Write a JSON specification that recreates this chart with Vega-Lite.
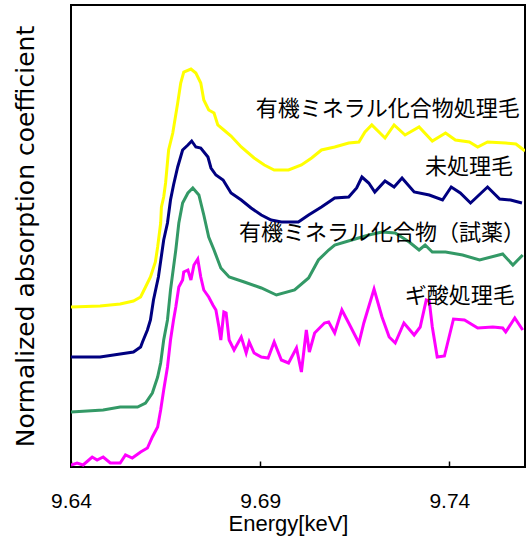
{
"$schema": "https://vega.github.io/schema/vega-lite/v6.json",
"autosize": "none",
"padding": {"left": 71, "top": 5, "right": 1, "bottom": 71},
"width": 454,
"height": 462,
"config": {"view": {"stroke": "black", "strokeWidth": 2}, "font": "Liberation Sans"},
"datasets": {
"curves": [
{"s":"Y","e":9.6400,"v":160},{"s":"Y","e":9.6477,"v":161},{"s":"Y","e":9.6530,"v":163},{"s":"Y","e":9.6565,"v":166},{"s":"Y","e":9.6584,"v":170},{"s":"Y","e":9.6597,"v":180},{"s":"Y","e":9.6610,"v":190},{"s":"Y","e":9.6623,"v":205},{"s":"Y","e":9.6629,"v":220},{"s":"Y","e":9.6637,"v":244},{"s":"Y","e":9.6639,"v":260},{"s":"Y","e":9.6645,"v":270},{"s":"Y","e":9.6650,"v":284},{"s":"Y","e":9.6658,"v":317},{"s":"Y","e":9.6669,"v":334},{"s":"Y","e":9.6682,"v":364},{"s":"Y","e":9.6690,"v":384},{"s":"Y","e":9.6698,"v":395},{"s":"Y","e":9.6717,"v":398},{"s":"Y","e":9.6730,"v":394},{"s":"Y","e":9.6743,"v":384},{"s":"Y","e":9.6751,"v":367},{"s":"Y","e":9.6764,"v":357},{"s":"Y","e":9.6778,"v":354},{"s":"Y","e":9.6788,"v":342},{"s":"Y","e":9.6804,"v":337},{"s":"Y","e":9.6823,"v":331},{"s":"Y","e":9.6850,"v":320},{"s":"Y","e":9.6884,"v":309},{"s":"Y","e":9.6911,"v":302},{"s":"Y","e":9.6937,"v":297},{"s":"Y","e":9.6975,"v":297},{"s":"Y","e":9.7009,"v":302},{"s":"Y","e":9.7036,"v":309},{"s":"Y","e":9.7062,"v":317},{"s":"Y","e":9.7097,"v":320},{"s":"Y","e":9.7134,"v":324},{"s":"Y","e":9.7161,"v":325},{"s":"Y","e":9.7177,"v":335},{"s":"Y","e":9.7195,"v":342},{"s":"Y","e":9.7230,"v":329},{"s":"Y","e":9.7254,"v":342},{"s":"Y","e":9.7283,"v":332},{"s":"Y","e":9.7320,"v":340},{"s":"Y","e":9.7355,"v":326},{"s":"Y","e":9.7390,"v":334},{"s":"Y","e":9.7416,"v":327},{"s":"Y","e":9.7453,"v":325},{"s":"Y","e":9.7475,"v":320},{"s":"Y","e":9.7501,"v":325},{"s":"Y","e":9.7549,"v":324},{"s":"Y","e":9.7576,"v":323},{"s":"Y","e":9.7600,"v":316},
{"s":"N","e":9.6400,"v":110},{"s":"N","e":9.6477,"v":110},{"s":"N","e":9.6530,"v":113},{"s":"N","e":9.6565,"v":115},{"s":"N","e":9.6584,"v":120},{"s":"N","e":9.6589,"v":125},{"s":"N","e":9.6602,"v":137},{"s":"N","e":9.6610,"v":147},{"s":"N","e":9.6618,"v":167},{"s":"N","e":9.6631,"v":190},{"s":"N","e":9.6645,"v":227},{"s":"N","e":9.6655,"v":244},{"s":"N","e":9.6663,"v":267},{"s":"N","e":9.6671,"v":282},{"s":"N","e":9.6682,"v":300},{"s":"N","e":9.6695,"v":317},{"s":"N","e":9.6709,"v":322},{"s":"N","e":9.6719,"v":326},{"s":"N","e":9.6730,"v":320},{"s":"N","e":9.6743,"v":319},{"s":"N","e":9.6762,"v":310},{"s":"N","e":9.6770,"v":299},{"s":"N","e":9.6783,"v":292},{"s":"N","e":9.6802,"v":287},{"s":"N","e":9.6823,"v":274},{"s":"N","e":9.6850,"v":267},{"s":"N","e":9.6876,"v":259},{"s":"N","e":9.6903,"v":252},{"s":"N","e":9.6929,"v":247},{"s":"N","e":9.6956,"v":245},{"s":"N","e":9.7001,"v":245},{"s":"N","e":9.7028,"v":252},{"s":"N","e":9.7062,"v":260},{"s":"N","e":9.7097,"v":269},{"s":"N","e":9.7134,"v":270},{"s":"N","e":9.7155,"v":279},{"s":"N","e":9.7169,"v":290},{"s":"N","e":9.7187,"v":284},{"s":"N","e":9.7203,"v":275},{"s":"N","e":9.7230,"v":286},{"s":"N","e":9.7254,"v":280},{"s":"N","e":9.7275,"v":289},{"s":"N","e":9.7307,"v":275},{"s":"N","e":9.7347,"v":272},{"s":"N","e":9.7382,"v":267},{"s":"N","e":9.7405,"v":280},{"s":"N","e":9.7429,"v":274},{"s":"N","e":9.7456,"v":264},{"s":"N","e":9.7501,"v":280},{"s":"N","e":9.7533,"v":268},{"s":"N","e":9.7562,"v":267},{"s":"N","e":9.7592,"v":264},
{"s":"G","e":9.6400,"v":55},{"s":"G","e":9.6485,"v":57},{"s":"G","e":9.6530,"v":60},{"s":"G","e":9.6576,"v":60},{"s":"G","e":9.6597,"v":64},{"s":"G","e":9.6615,"v":74},{"s":"G","e":9.6629,"v":90},{"s":"G","e":9.6637,"v":104},{"s":"G","e":9.6645,"v":127},{"s":"G","e":9.6655,"v":147},{"s":"G","e":9.6663,"v":177},{"s":"G","e":9.6677,"v":217},{"s":"G","e":9.6685,"v":244},{"s":"G","e":9.6695,"v":264},{"s":"G","e":9.6709,"v":274},{"s":"G","e":9.6722,"v":279},{"s":"G","e":9.6738,"v":272},{"s":"G","e":9.6751,"v":252},{"s":"G","e":9.6764,"v":230},{"s":"G","e":9.6778,"v":217},{"s":"G","e":9.6788,"v":207},{"s":"G","e":9.6796,"v":199},{"s":"G","e":9.6818,"v":190},{"s":"G","e":9.6858,"v":185},{"s":"G","e":9.6903,"v":179},{"s":"G","e":9.6943,"v":172},{"s":"G","e":9.6991,"v":177},{"s":"G","e":9.7028,"v":189},{"s":"G","e":9.7054,"v":207},{"s":"G","e":9.7081,"v":217},{"s":"G","e":9.7097,"v":222},{"s":"G","e":9.7142,"v":227},{"s":"G","e":9.7187,"v":232},{"s":"G","e":9.7222,"v":235},{"s":"G","e":9.7257,"v":234},{"s":"G","e":9.7294,"v":225},{"s":"G","e":9.7320,"v":217},{"s":"G","e":9.7336,"v":222},{"s":"G","e":9.7355,"v":215},{"s":"G","e":9.7390,"v":215},{"s":"G","e":9.7435,"v":212},{"s":"G","e":9.7480,"v":207},{"s":"G","e":9.7541,"v":213},{"s":"G","e":9.7568,"v":202},{"s":"G","e":9.7594,"v":212},
{"s":"M","e":9.6400,"v":2},{"s":"M","e":9.6416,"v":4},{"s":"M","e":9.6432,"v":2},{"s":"M","e":9.6456,"v":10},{"s":"M","e":9.6469,"v":7},{"s":"M","e":9.6485,"v":10},{"s":"M","e":9.6504,"v":4},{"s":"M","e":9.6530,"v":4},{"s":"M","e":9.6544,"v":12},{"s":"M","e":9.6562,"v":9},{"s":"M","e":9.6584,"v":15},{"s":"M","e":9.6602,"v":19},{"s":"M","e":9.6615,"v":30},{"s":"M","e":9.6629,"v":40},{"s":"M","e":9.6637,"v":57},{"s":"M","e":9.6645,"v":77},{"s":"M","e":9.6655,"v":100},{"s":"M","e":9.6663,"v":127},{"s":"M","e":9.6671,"v":147},{"s":"M","e":9.6677,"v":160},{"s":"M","e":9.6685,"v":180},{"s":"M","e":9.6695,"v":187},{"s":"M","e":9.6698,"v":195},{"s":"M","e":9.6709,"v":197},{"s":"M","e":9.6717,"v":187},{"s":"M","e":9.6725,"v":202},{"s":"M","e":9.6735,"v":208},{"s":"M","e":9.6743,"v":190},{"s":"M","e":9.6751,"v":177},{"s":"M","e":9.6764,"v":170},{"s":"M","e":9.6775,"v":162},{"s":"M","e":9.6783,"v":157},{"s":"M","e":9.6791,"v":140},{"s":"M","e":9.6796,"v":127},{"s":"M","e":9.6804,"v":155},{"s":"M","e":9.6810,"v":154},{"s":"M","e":9.6818,"v":127},{"s":"M","e":9.6831,"v":117},{"s":"M","e":9.6850,"v":130},{"s":"M","e":9.6863,"v":114},{"s":"M","e":9.6871,"v":125},{"s":"M","e":9.6884,"v":114},{"s":"M","e":9.6903,"v":110},{"s":"M","e":9.6921,"v":109},{"s":"M","e":9.6937,"v":125},{"s":"M","e":9.6956,"v":107},{"s":"M","e":9.6975,"v":104},{"s":"M","e":9.6996,"v":119},{"s":"M","e":9.7009,"v":95},{"s":"M","e":9.7022,"v":137},{"s":"M","e":9.7030,"v":115},{"s":"M","e":9.7044,"v":134},{"s":"M","e":9.7070,"v":144},{"s":"M","e":9.7081,"v":145},{"s":"M","e":9.7097,"v":134},{"s":"M","e":9.7116,"v":157},{"s":"M","e":9.7134,"v":144},{"s":"M","e":9.7161,"v":124},{"s":"M","e":9.7174,"v":144},{"s":"M","e":9.7201,"v":178},{"s":"M","e":9.7222,"v":150},{"s":"M","e":9.7241,"v":130},{"s":"M","e":9.7257,"v":124},{"s":"M","e":9.7280,"v":144},{"s":"M","e":9.7307,"v":132},{"s":"M","e":9.7323,"v":140},{"s":"M","e":9.7339,"v":167},{"s":"M","e":9.7347,"v":166},{"s":"M","e":9.7355,"v":140},{"s":"M","e":9.7368,"v":110},{"s":"M","e":9.7387,"v":111},{"s":"M","e":9.7411,"v":148},{"s":"M","e":9.7440,"v":147},{"s":"M","e":9.7475,"v":139},{"s":"M","e":9.7515,"v":140},{"s":"M","e":9.7541,"v":139},{"s":"M","e":9.7549,"v":135},{"s":"M","e":9.7573,"v":149},{"s":"M","e":9.7594,"v":137}
],
"labels": [
{"t": "有機ミネラル化合物処理毛", "e": 9.7586, "v": 358},
{"t": "未処理毛", "e": 9.7568, "v": 300},
{"t": "有機ミネラル化合物（試薬）", "e": 9.7600, "v": 234},
{"t": "ギ酸処理毛", "e": 9.7573, "v": 171}
]
},
"encoding": {
"x": {"field": "e", "type": "quantitative", "scale": {"domain": [9.64, 9.76], "nice": false, "zero": false},
"axis": {"values": [9.64, 9.69, 9.74], "format": ".2f", "title": "Energy[keV]", "grid": false, "domain": false,
"labelFont": "Liberation Sans", "labelFontSize": 21, "labelColor": "black", "labelPadding": 29, "labelFlush": false,
"tickColor": "black", "tickWidth": 1.5, "tickSize": -6,
"titleFont": "Liberation Sans", "titleFontSize": 22, "titleFontWeight": "normal", "titleColor": "black", "titlePadding": 2, "titleX": 217}},
"y": {"field": "v", "type": "quantitative", "scale": {"domain": [0, 462], "nice": false, "zero": false},
"axis": {"title": "Normalized absorption coefficient", "labels": false, "ticks": false, "grid": false, "domain": false,
"titleFont": "DejaVu Sans", "titleFontSize": 25, "titleFontWeight": "normal", "titleColor": "black", "titlePadding": 33}}
},
"layer": [
{"data": {"name": "curves"}, "mark": {"type": "line", "strokeWidth": 3, "clip": true},
"encoding": {"color": {"field": "s", "type": "nominal", "legend": null,
"scale": {"domain": ["Y", "N", "G", "M"], "range": ["#FFFF00", "#000080", "#339966", "#FF00FF"]}}}},
{"data": {"name": "labels"}, "mark": {"type": "text", "align": "right", "baseline": "middle", "font": "Noto Sans CJK JP", "fontSize": 22, "color": "black"},
"encoding": {"text": {"field": "t"}}}
]
}
